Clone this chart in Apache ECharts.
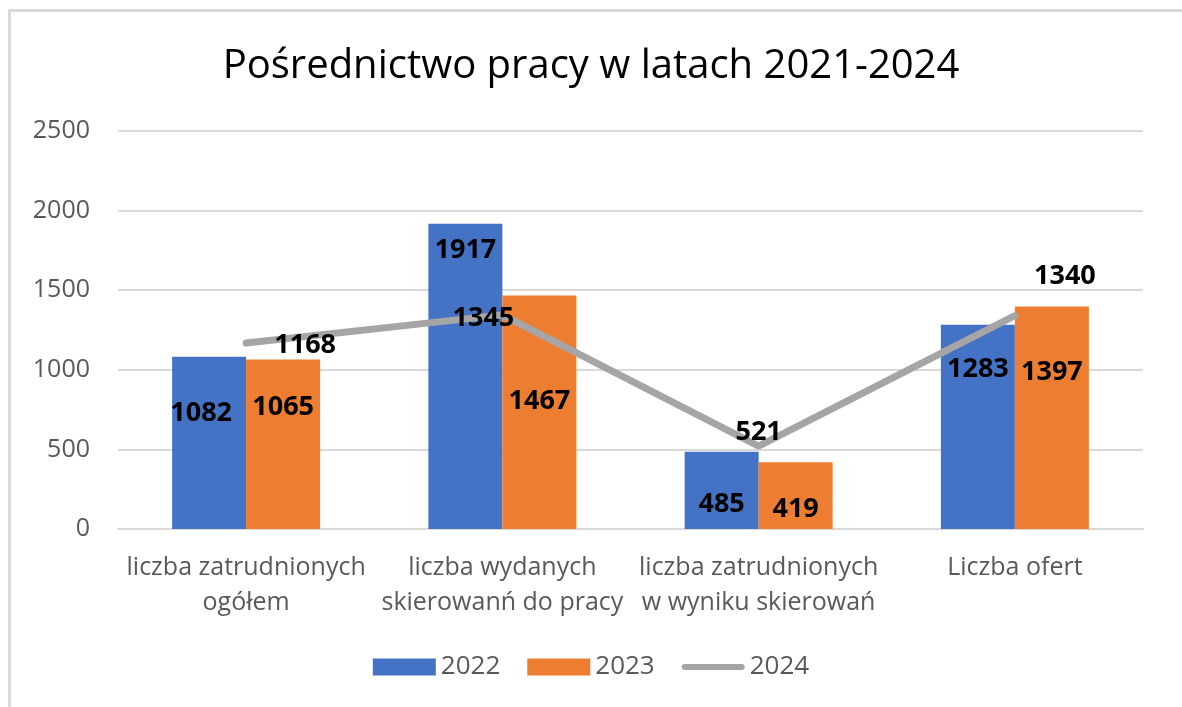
<!DOCTYPE html>
<html>
<head>
<meta charset="utf-8">
<script src="https://cdn.jsdelivr.net/npm/echarts@6/dist/echarts.min.js"></script>
<style>
    html, body { margin: 0; padding: 0; background: #fff; }
    #chart { position: absolute; left: 0; top: 0; width: 1182px; height: 707px; }
    #frame { position: absolute; left: 8px; top: 9px; right: 0; bottom: 0;
             border-top: 3px solid #d9d9d9; border-left: 3px solid #d9d9d9; pointer-events: none; }
</style>
</head>
<body>
<div id="chart"></div>
<div id="frame"></div>
<script>
const categories = [
    'liczba zatrudnionych\nogółem',
    'liczba wydanych\nskierowanń do pracy',
    'liczba zatrudnionych\nw wyniku skierowań',
    'Liczba ofert'
];
const values2022 = [1082, 1917, 485, 1283];
const values2023 = [1065, 1467, 419, 1397];
const values2024 = [1168, 1345, 521, 1340];

// label nudges, as in the original picture
const offsets2022 = [[-8, -30], [0, -126], [0, 14], [0, -58]];
const offsets2023 = [[0, -37], [0, -11], [0, 14], [0, -45]];
const offsets2024 = [[59, 2], [-19, 3], [0, -14], [50, -39]];

const font = '"Open Sans", sans-serif';

function withOffsets(values, offs) {
    return values.map((v, i) => ({ value: v, label: { offset: offs[i] } }));
}

const labelStyle = { show: true, position: 'inside', fontFamily: font, fontSize: 27, fontWeight: 'bold', color: '#000' };

const chart = echarts.init(document.getElementById('chart'));
chart.setOption({
    animation: false,
    title: {
        text: 'Pośrednictwo pracy w latach 2021-2024',
        left: 'center',
        top: 42,
        textStyle: { fontFamily: font, fontSize: 40, fontWeight: 'normal', color: '#000' }
    },
    legend: {
        bottom: 22,
        left: 'center',
        itemWidth: 63,
        itemHeight: 17,
        itemGap: 27,
        textStyle: { fontFamily: font, fontSize: 26, color: '#595959' },
        data: [
            { name: '2022', icon: 'rect' },
            { name: '2023', icon: 'rect' },
            { name: '2024', icon: 'path://M3,0 L60,0 A3,3 0 0 1 60,6 L3,6 A3,3 0 0 1 3,0 Z' }
        ]
    },
    grid: { left: 118, right: 39, top: 131, bottom: 178, containLabel: false },
    xAxis: {
        type: 'category',
        data: categories,
        axisLine: { lineStyle: { color: '#d9d9d9', width: 2 } },
        axisTick: { show: false },
        axisLabel: {
            fontFamily: font, fontSize: 25, color: '#595959',
            lineHeight: 35, margin: 21, interval: 0
        }
    },
    yAxis: {
        type: 'value',
        min: 0,
        max: 2500,
        interval: 500,
        axisLine: { show: false },
        axisTick: { show: false },
        axisLabel: { fontFamily: font, fontSize: 25, color: '#595959', margin: 28, formatter: v => String(v) },
        splitLine: { lineStyle: { color: '#d9d9d9', width: 2 } }
    },
    series: [
        {
            name: '2022',
            type: 'bar',
            barWidth: 74,
            barGap: '0%',
            itemStyle: { color: '#4472c4' },
            label: labelStyle,
            data: withOffsets(values2022, offsets2022)
        },
        {
            name: '2023',
            type: 'bar',
            barWidth: 74,
            barGap: '0%',
            itemStyle: { color: '#ed7d31' },
            label: labelStyle,
            data: withOffsets(values2023, offsets2023)
        },
        {
            name: '2024',
            type: 'line',
            symbol: 'circle',
            symbolSize: 2,
            itemStyle: { color: '#a5a5a5' },
            lineStyle: { color: '#a5a5a5', width: 7, cap: 'round' },
            label: labelStyle,
            z: 3,
            data: withOffsets(values2024, offsets2024)
        }
    ]
});
</script>
</body>
</html>
